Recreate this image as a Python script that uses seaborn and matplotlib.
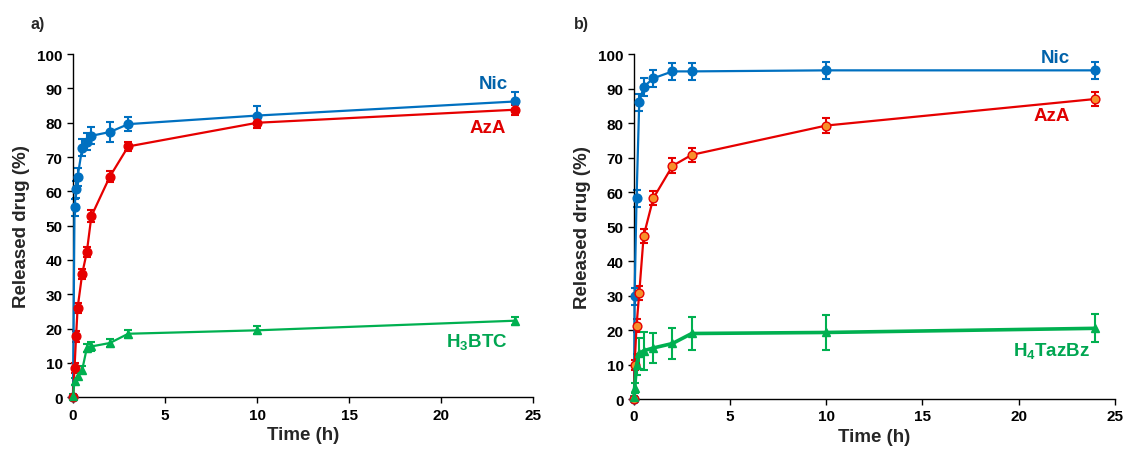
import numpy as np
import pandas as pd
import seaborn as sns
import matplotlib
matplotlib.use("Agg")
import matplotlib.pyplot as plt

# ---- data ----
# panel a)
time_a = [0, 0.083, 0.167, 0.25, 0.5, 0.75, 1, 2, 3, 10, 24]
nic_a = [0, 55.4, 60.6, 64.2, 72.7, 74.5, 76.2, 77.3, 79.6, 82.1, 86.2]
nic_a_err = [0, 2.5, 2.5, 2.5, 2.5, 2.5, 2.5, 3.0, 2.0, 2.7, 2.8]
aza_a = [0, 8.5, 17.7, 26.0, 36.0, 42.3, 52.8, 64.3, 73.1, 80.0, 83.8]
aza_a_err = [0, 1.5, 1.5, 1.5, 1.5, 1.5, 1.8, 1.5, 1.2, 1.5, 1.5]
time_a_g = [0, 0.083, 0.25, 0.5, 0.75, 1, 2, 3, 10, 24]
btc_a = [0.3, 4.6, 6.3, 8.0, 14.3, 14.8, 15.8, 18.5, 19.5, 22.3]
btc_a_err = [0.5, 1.0, 1.0, 1.0, 1.2, 1.2, 1.2, 1.2, 1.2, 1.2]

# panel b)
time_b = [0, 0.03, 0.13, 0.27, 0.5, 1, 2, 3, 10, 24]
nic_b = [0, 29.8, 58.2, 86.0, 90.5, 93.0, 95.0, 95.0, 95.3, 95.3]
nic_b_err = [0, 2.5, 2.5, 2.5, 2.5, 2.5, 2.5, 2.5, 2.5, 2.5]
aza_b = [0, 9.9, 21.3, 30.7, 47.3, 58.2, 67.6, 70.8, 79.3, 87.0]
aza_b_err = [0, 1.5, 2.0, 2.0, 2.0, 2.0, 2.2, 2.0, 2.2, 2.0]
taz_b = [0.5, 3.2, 10.0, 13.2, 14.0, 14.8, 16.1, 19.0, 19.3, 20.5]
taz_b_err = [0.5, 1.5, 3.0, 4.5, 5.5, 4.3, 4.4, 4.9, 5.1, 4.1]

BLUE = "#0070C0"
RED = "#E60000"
GREEN = "#00B050"
ORANGE = "#F7902A"

sns.set_theme(style="ticks")
plt.rcParams['font.family'] = ['Liberation Sans', 'DejaVu Sans']
plt.rcParams['font.weight'] = 'bold'
plt.rcParams['mathtext.fontset'] = 'custom'
plt.rcParams['mathtext.rm'] = 'Liberation Sans:bold'
plt.rcParams['mathtext.it'] = 'Liberation Sans:bold'
plt.rcParams['mathtext.bf'] = 'Liberation Sans:bold'

fig = plt.figure(figsize=(11.23, 4.52), dpi=100)
ax_a = fig.add_axes([0.065, 0.119, 0.410, 0.759])
ax_b = fig.add_axes([0.5646, 0.115, 0.428, 0.763])


def draw_series(ax, t, y, err, color, marker, face=None, lw=1.6, ms=6.3):
    df = pd.DataFrame({"time": t, "release": y})
    sns.lineplot(data=df, x="time", y="release", ax=ax, color=color, lw=lw,
                 marker=marker, markersize=ms, markerfacecolor=face or color,
                 markeredgecolor=color, markeredgewidth=1.0, clip_on=False,
                 zorder=3)
    ax.errorbar(t, y, yerr=err, fmt="none", ecolor=color, elinewidth=1.5,
                capsize=3, capthick=1.5, clip_on=False, zorder=2)


draw_series(ax_a, time_a, nic_a, nic_a_err, BLUE, "o")
draw_series(ax_a, time_a, aza_a, aza_a_err, RED, "o")
draw_series(ax_a, time_a_g, btc_a, btc_a_err, GREEN, "^")

draw_series(ax_b, time_b, nic_b, nic_b_err, BLUE, "o")
draw_series(ax_b, time_b, aza_b, aza_b_err, RED, "o", face=ORANGE)
draw_series(ax_b, time_b, taz_b, taz_b_err, GREEN, "^", lw=2.6)

for ax in (ax_a, ax_b):
    ax.set_xlim(0, 25)
    ax.set_ylim(0, 100)
    ax.set_xticks(np.arange(0, 26, 5))
    ax.set_yticks(np.arange(0, 101, 10))
    ax.set_xlabel("Time (h)", fontsize=13.5, fontweight="bold", labelpad=3)
    ax.set_ylabel("Released drug (%)", fontsize=13.5, fontweight="bold", labelpad=5)
    ax.tick_params(labelsize=11, length=4, width=1, colors="black")
    for lab in ax.get_xticklabels() + ax.get_yticklabels():
        lab.set_fontweight("bold")
    sns.despine(ax=ax)
    for s in ("left", "bottom"):
        ax.spines[s].set_color("black")
        ax.spines[s].set_linewidth(1.0)

# curve labels
ax_a.text(22.8, 91.5, "Nic", color="#0062AA", fontsize=13.5, fontweight="bold", ha="center", va="center")
ax_a.text(22.5, 78.5, "AzA", color="#E00000", fontsize=13.5, fontweight="bold", ha="center", va="center")
ax_a.text(21.9, 16.3, "H$_3$BTC", color="#00A651", fontsize=13.5, fontweight="bold", ha="center", va="center")
ax_b.text(21.9, 99.1, "Nic", color="#0062AA", fontsize=13.5, fontweight="bold", ha="center", va="center")
ax_b.text(21.7, 82.1, "AzA", color="#E00000", fontsize=13.5, fontweight="bold", ha="center", va="center")
ax_b.text(21.7, 14.3, "H$_4$TazBz", color="#00A651", fontsize=13.5, fontweight="bold", ha="center", va="center")

fig.text(0.027, 0.945, "a)", fontsize=11.5, fontweight="bold", ha="left", va="center")
fig.text(0.511, 0.945, "b)", fontsize=11.5, fontweight="bold", ha="left", va="center")

fig.savefig("out.png", dpi=100)
